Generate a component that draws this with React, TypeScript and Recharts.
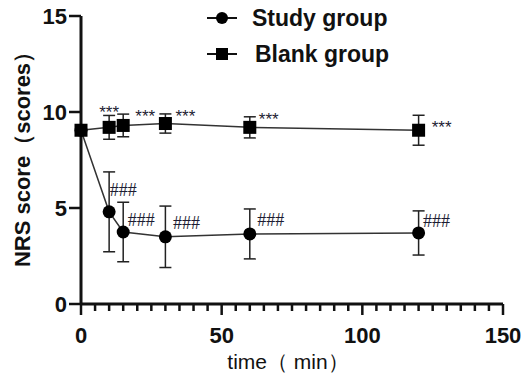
import React from "react";
import {
  LineChart,
  Line,
  XAxis,
  YAxis,
  ErrorBar,
  LabelList,
} from "recharts";

// NRS pain score over time, mean ± SD
const times = [0, 10, 15, 30, 60, 120];
const studyMean = [9.05, 4.8, 3.75, 3.5, 3.65, 3.7];
const studySd = [0, 2.08, 1.55, 1.6, 1.3, 1.15];
const blankMean = [9.05, 9.2, 9.3, 9.4, 9.2, 9.05];
const blankSd = [0, 0.62, 0.59, 0.5, 0.55, 0.78];
const studyMarks = ["", "###", "###", "###", "###", "###"];
const blankMarks = ["", "***", "***", "***", "***", "***"];

const xMajorTicks = [0, 50, 100, 150];
const xTicks = Array.from({ length: 31 }, (_, i) => i * 5);
const yTicks = [0, 5, 10, 15];

// label placement (visual centre, relative to the point)
const blankMarkOffset: [number, number][] = [[0, 0], [0, -18], [22, -12], [20, -11], [19, -11], [23, -6]];
const studyMarkOffset: [number, number][] = [[0, 0], [14, -22], [18, -12], [21, -14], [21, -14], [18, -12]];

const data = times.map((t, i) => ({
  time: t,
  study: studyMean[i],
  studySd: studySd[i],
  blank: blankMean[i],
  blankSd: blankSd[i],
  studyMark: studyMarks[i],
  blankMark: blankMarks[i],
}));

const INK = "#111";
const SANS = "'Liberation Sans', Arial, sans-serif";

function XTick(props: any) {
  const { x, y, payload } = props;
  const major = xMajorTicks.includes(payload.value);
  return (
    <g>
      <line x1={x} x2={x} y1={y} y2={y + (major ? 11 : 7)} stroke={INK} strokeWidth={2.5} />
      {major && (
        <text x={x} y={y + 39} textAnchor="middle" fontFamily={SANS} fontWeight="bold" fontSize={22} fill={INK}>
          {payload.value}
        </text>
      )}
    </g>
  );
}

function StudyDot(props: any) {
  const { cx, cy } = props;
  if (cx == null || cy == null) return null;
  return <circle cx={cx} cy={cy} r={6.5} fill="#000" />;
}

function BlankDot(props: any) {
  const { cx, cy } = props;
  if (cx == null || cy == null) return null;
  return <rect x={cx - 6.5} y={cy - 6.5} width={13} height={13} fill="#000" />;
}

function StarLabel(props: any) {
  const { x, y, value, index } = props;
  if (!value) return null;
  const [dx, dy] = blankMarkOffset[index] ?? [20, -10];
  return (
    <text x={x + dx} y={y + dy + 9} textAnchor="middle" fontFamily={SANS} fontSize={17} fill="#1d1d33">
      {value}
    </text>
  );
}

function HashLabel(props: any) {
  const { x, y, value, index } = props;
  if (!value) return null;
  const [dx, dy] = studyMarkOffset[index] ?? [20, -12];
  return (
    <text x={x + dx} y={y + dy + 6} textAnchor="middle" fontFamily="'Liberation Serif', serif" fontSize={18} fill="#1d1d33">
      {value}
    </text>
  );
}

function LegendBox() {
  const row = (marker: React.ReactNode, label: string, gap: number) => (
    <div style={{ display: "flex", alignItems: "center", height: 36 }}>
      <svg width={40} height={20}>
        <line x1={7} x2={37} y1={10} y2={10} stroke={INK} strokeWidth={2} />
        {marker}
      </svg>
      <span style={{ fontFamily: SANS, fontWeight: "bold", fontSize: 23, color: INK, marginLeft: gap }}>{label}</span>
    </div>
  );
  return (
    <div style={{ position: "absolute", left: 200, top: 0 }}>
      {row(<circle cx={22} cy={10} r={6} fill="#000" />, "Study group", 12)}
      {row(<rect x={16} y={4} width={12} height={12} fill="#000" />, "Blank group", 15)}
    </div>
  );
}

function YTitle(props: any) {
  const { viewBox } = props;
  const cx = viewBox.x + 12;
  const cy = viewBox.y + viewBox.height / 2 - 6;
  return (
    <text x={cx} y={cy} transform={`rotate(-90 ${cx} ${cy})`} textAnchor="middle" dominantBaseline="central"
      fontFamily={SANS} fontWeight="bold" fontSize={22} fill={INK}>
      NRS score（scores）
    </text>
  );
}

function XTitle(props: any) {
  const { viewBox } = props;
  return (
    <text x={viewBox.x + viewBox.width / 2 - 4} y={viewBox.y + 65} textAnchor="middle"
      fontFamily={SANS} fontSize={21} fill={INK}>
      time（ min）
    </text>
  );
}

export default function App() {
  return (
    <div style={{ position: "absolute", left: 0, top: 0, width: 531, height: 381, background: "#fff" }}>
      <LineChart width={531} height={381} data={data} margin={{ top: 16, right: 28, bottom: 17, left: 10 }}>
        <XAxis
          type="number"
          dataKey="time"
          domain={[0, 150]}
          ticks={xTicks}
          interval={0}
          tick={<XTick />}
          tickLine={false}
          tickSize={0}
          tickMargin={0}
          height={60}
          axisLine={{ stroke: INK, strokeWidth: 3 }}
          label={<XTitle />}
        />
        <YAxis
          type="number"
          domain={[0, 15]}
          ticks={yTicks}
          interval={0}
          width={71}
          tickSize={12}
          tickMargin={2}
          tickLine={{ stroke: INK, strokeWidth: 2.5 }}
          axisLine={{ stroke: INK, strokeWidth: 3 }}
          tick={{ fontFamily: SANS, fontWeight: "bold", fontSize: 22, fill: INK }}
          label={<YTitle />}
        />
        <Line
          dataKey="study"
          name="Study group"
          stroke="#333"
          strokeWidth={1.5}
          dot={<StudyDot />}
          activeDot={false}
          isAnimationActive={false}
        >
          <ErrorBar dataKey="studySd" direction="y" width={6} stroke="#222" strokeWidth={1.5} />
          <LabelList dataKey="studyMark" content={<HashLabel />} />
        </Line>
        <Line
          dataKey="blank"
          name="Blank group"
          stroke="#333"
          strokeWidth={1.5}
          dot={<BlankDot />}
          activeDot={false}
          isAnimationActive={false}
        >
          <ErrorBar dataKey="blankSd" direction="y" width={6} stroke="#222" strokeWidth={1.5} />
          <LabelList dataKey="blankMark" content={<StarLabel />} />
        </Line>
      </LineChart>
      <LegendBox />
    </div>
  );
}
